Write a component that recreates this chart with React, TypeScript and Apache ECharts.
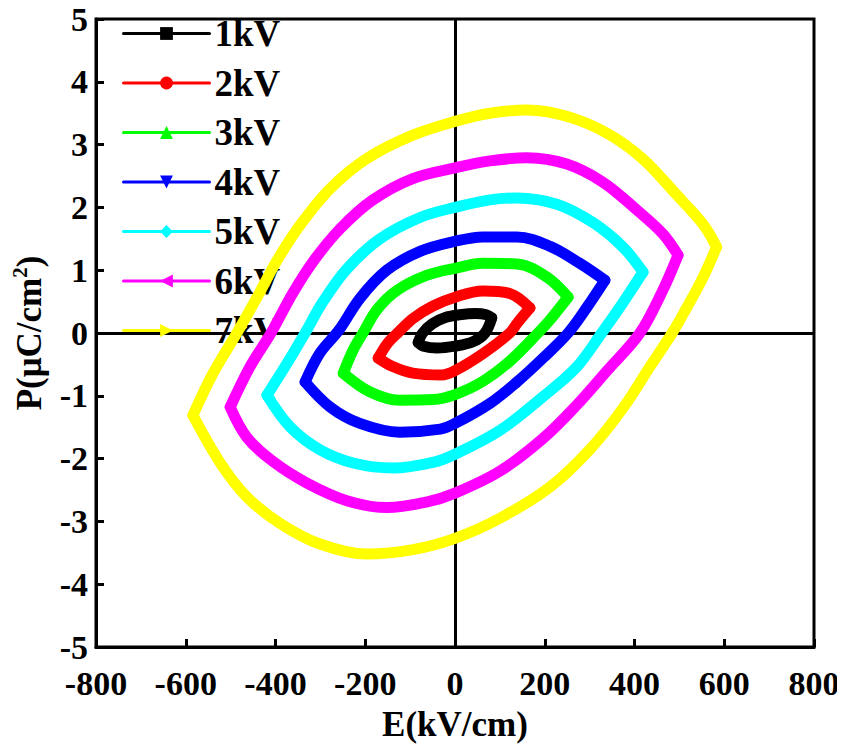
import React, { useEffect, useRef } from "react";
import * as echarts from "echarts";

// P–E hysteresis loops, one per drive voltage.
const voltages = ["1kV", "2kV", "3kV", "4kV", "5kV", "6kV", "7kV"];
const loopColors = ["#000000", "#ff0000", "#00ff00", "#0000ff", "#00ffff", "#ff00ff", "#ffff00"];
const markerShapes = ["rect", "circle", "triangle", "triangle", "diamond", "triangle", "triangle"];
const markerRotations = [0, 0, 0, 180, 0, 90, -90];

// Each loop: rising branch (negative tip -> positive tip) and falling branch (back again).
// Points are [E (kV/cm), P (µC/cm²)].
const rise1kV: [number, number][] = [[-82, -0.15], [-72, 0.0], [-50, 0.15], [-20, 0.25], [10, 0.29], [45, 0.31], [70, 0.29], [82, 0.24]];
const fall1kV: [number, number][] = [[82, 0.24], [67, 0.0], [40, -0.14], [0, -0.21], [-40, -0.24], [-70, -0.21], [-82, -0.15]];

const rise2kV: [number, number][] = [[-171, -0.4], [-150, -0.16], [-125, 0.02], [-94, 0.23], [-49, 0.43], [0, 0.57], [62, 0.67], [122, 0.63], [167, 0.4]];
const fall2kV: [number, number][] = [[167, 0.4], [140, 0.17], [122, 0.0], [62, -0.33], [0, -0.6], [-30, -0.67], [-94, -0.64], [-140, -0.53], [-171, -0.4]];

const rise3kV: [number, number][] = [[-249, -0.64], [-227, -0.27], [-205, 0.0], [-174, 0.37], [-129, 0.68], [-62, 0.92], [0, 1.03], [62, 1.11], [138, 1.1], [205, 0.89], [252, 0.57]];
const fall3kV: [number, number][] = [[252, 0.57], [212, 0.21], [185, 0.0], [122, -0.45], [62, -0.77], [0, -0.98], [-49, -1.06], [-123, -1.07], [-189, -0.94], [-249, -0.64]];

const rise4kV: [number, number][] = [[-334, -0.78], [-301, -0.32], [-258, 0.05], [-212, 0.55], [-152, 1.0], [-78, 1.3], [0, 1.46], [62, 1.53], [138, 1.53], [212, 1.38], [278, 1.11], [334, 0.84]];
const fall4kV: [number, number][] = [[334, 0.84], [294, 0.41], [252, 0.0], [196, -0.4], [138, -0.78], [78, -1.12], [0, -1.44], [-33, -1.53], [-123, -1.58], [-212, -1.44], [-278, -1.18], [-334, -0.78]];

const rise5kV: [number, number][] = [[-419, -0.99], [-374, -0.48], [-334, 0.0], [-294, 0.5], [-241, 1.02], [-167, 1.5], [-78, 1.84], [0, 2.0], [78, 2.12], [138, 2.15], [227, 2.05], [307, 1.76], [374, 1.37], [419, 0.97]];
const fall5kV: [number, number][] = [[419, 0.97], [374, 0.48], [327, 0.0], [270, -0.55], [190, -1.05], [100, -1.55], [0, -1.93], [-49, -2.06], [-138, -2.15], [-227, -2.07], [-301, -1.86], [-367, -1.5], [-419, -0.99]];

const rise6kV: [number, number][] = [[-501, -1.18], [-457, -0.54], [-410, 0.0], [-361, 0.64], [-316, 1.14], [-256, 1.66], [-183, 2.12], [-94, 2.46], [0, 2.63], [78, 2.74], [160, 2.79], [249, 2.69], [330, 2.4], [405, 1.96], [463, 1.58], [497, 1.24]];
const fall6kV: [number, number][] = [[497, 1.24], [463, 0.68], [412, 0.0], [339, -0.6], [271, -1.15], [196, -1.68], [100, -2.2], [0, -2.55], [-62, -2.69], [-152, -2.78], [-241, -2.67], [-330, -2.39], [-405, -2.05], [-464, -1.66], [-501, -1.18]];

const rise7kV: [number, number][] = [[-584, -1.31], [-539, -0.64], [-486, 0.0], [-441, 0.57], [-397, 1.15], [-345, 1.72], [-278, 2.3], [-196, 2.78], [-94, 3.15], [0, 3.37], [78, 3.5], [160, 3.55], [249, 3.45], [339, 3.18], [419, 2.77], [494, 2.2], [553, 1.73], [583, 1.37]];
const fall7kV: [number, number][] = [[583, 1.37], [553, 0.89], [517, 0.41], [484, 0.0], [435, -0.53], [374, -1.2], [301, -1.85], [212, -2.45], [100, -2.95], [0, -3.27], [-94, -3.45], [-196, -3.52], [-301, -3.36], [-390, -3.03], [-464, -2.61], [-523, -2.07], [-584, -1.31]];

const risingBranches = [rise1kV, rise2kV, rise3kV, rise4kV, rise5kV, rise6kV, rise7kV];
const fallingBranches = [fall1kV, fall2kV, fall3kV, fall4kV, fall5kV, fall6kV, fall7kV];

const FONT = "'Liberation Serif', 'Times New Roman', serif";

export default function App() {
  const ref = useRef<HTMLDivElement>(null);

  useEffect(() => {
    if (!ref.current) return;
    const chart = echarts.init(ref.current, null, { renderer: "svg" });

    const loopSeries: any[] = [];
    voltages.forEach((name, i) => {
      [risingBranches[i], fallingBranches[i]].forEach((branch) => {
        loopSeries.push({
          name,
          type: "line",
          data: branch,
          smooth: 0.35,
          showSymbol: false,
          symbol: markerShapes[i],
          symbolRotate: markerRotations[i],
          color: loopColors[i],
          itemStyle: { color: loopColors[i], borderWidth: 0 },
          lineStyle: { color: loopColors[i], width: 11, cap: "round", join: "round" },
          z: 3,
          silent: true,
        });
      });
    });

    chart.setOption({
      animation: false,
      backgroundColor: "#ffffff",
      grid: {
        left: 96,
        right: 31,
        top: 19,
        bottom: 102,
        show: true,
        borderColor: "#000",
        borderWidth: 3,
        containLabel: false,
      },
      legend: {
        data: voltages,
        orient: "vertical",
        left: 122,
        top: 15,
        padding: 0,
        z: 2,
        itemWidth: 86,
        itemHeight: 16,
        itemGap: 12.5,
        lineStyle: { width: 3 },
        selectedMode: false,
        textStyle: {
          fontFamily: FONT,
          fontWeight: "bold",
          fontSize: 37,
          lineHeight: 36,
          color: "#000",
        },
      },
      xAxis: {
        type: "value",
        min: -800,
        max: 800,
        interval: 200,
        name: "E(kV/cm)",
        nameLocation: "middle",
        nameGap: 60,
        nameTextStyle: { fontFamily: FONT, fontWeight: "bold", fontSize: 35, color: "#000" },
        axisLine: { onZero: false, lineStyle: { color: "#000", width: 3 } },
        axisTick: { inside: true, length: 8, lineStyle: { color: "#000", width: 3 } },
        axisLabel: { margin: 19, fontFamily: FONT, fontWeight: "bold", fontSize: 34, color: "#000" },
        splitLine: { show: false },
      },
      yAxis: {
        type: "value",
        min: -5,
        max: 5,
        interval: 1,
        name: "{a|P(μC/cm}{b|2}{a|)}",
        nameLocation: "middle",
        nameGap: 47,
        nameTextStyle: {
          rich: {
            a: { fontFamily: FONT, fontWeight: "bold", fontSize: 35, color: "#000", lineHeight: 40 },
            b: { fontFamily: FONT, fontWeight: "bold", fontSize: 21, color: "#000", verticalAlign: "top", lineHeight: 24 },
          },
        },
        axisLine: { onZero: false, lineStyle: { color: "#000", width: 3 } },
        axisTick: { inside: true, length: 8, lineStyle: { color: "#000", width: 3 } },
        axisLabel: { margin: 8, fontFamily: FONT, fontWeight: "bold", fontSize: 34, color: "#000" },
        splitLine: { show: false },
      },
      series: [
        {
          name: "origin",
          type: "line",
          data: [],
          silent: true,
          markLine: {
            silent: true,
            z: 1,
            symbol: ["none", "none"],
            label: { show: false },
            lineStyle: { color: "#000", width: 3, type: "solid" },
            data: [{ xAxis: 0 }, { yAxis: 0 }],
          },
        },
        ...loopSeries,
      ],
    });

    return () => chart.dispose();
  }, []);

  return <div ref={ref} style={{ width: 845, height: 749, marginLeft: -8, marginTop: -8 }} />;
}
